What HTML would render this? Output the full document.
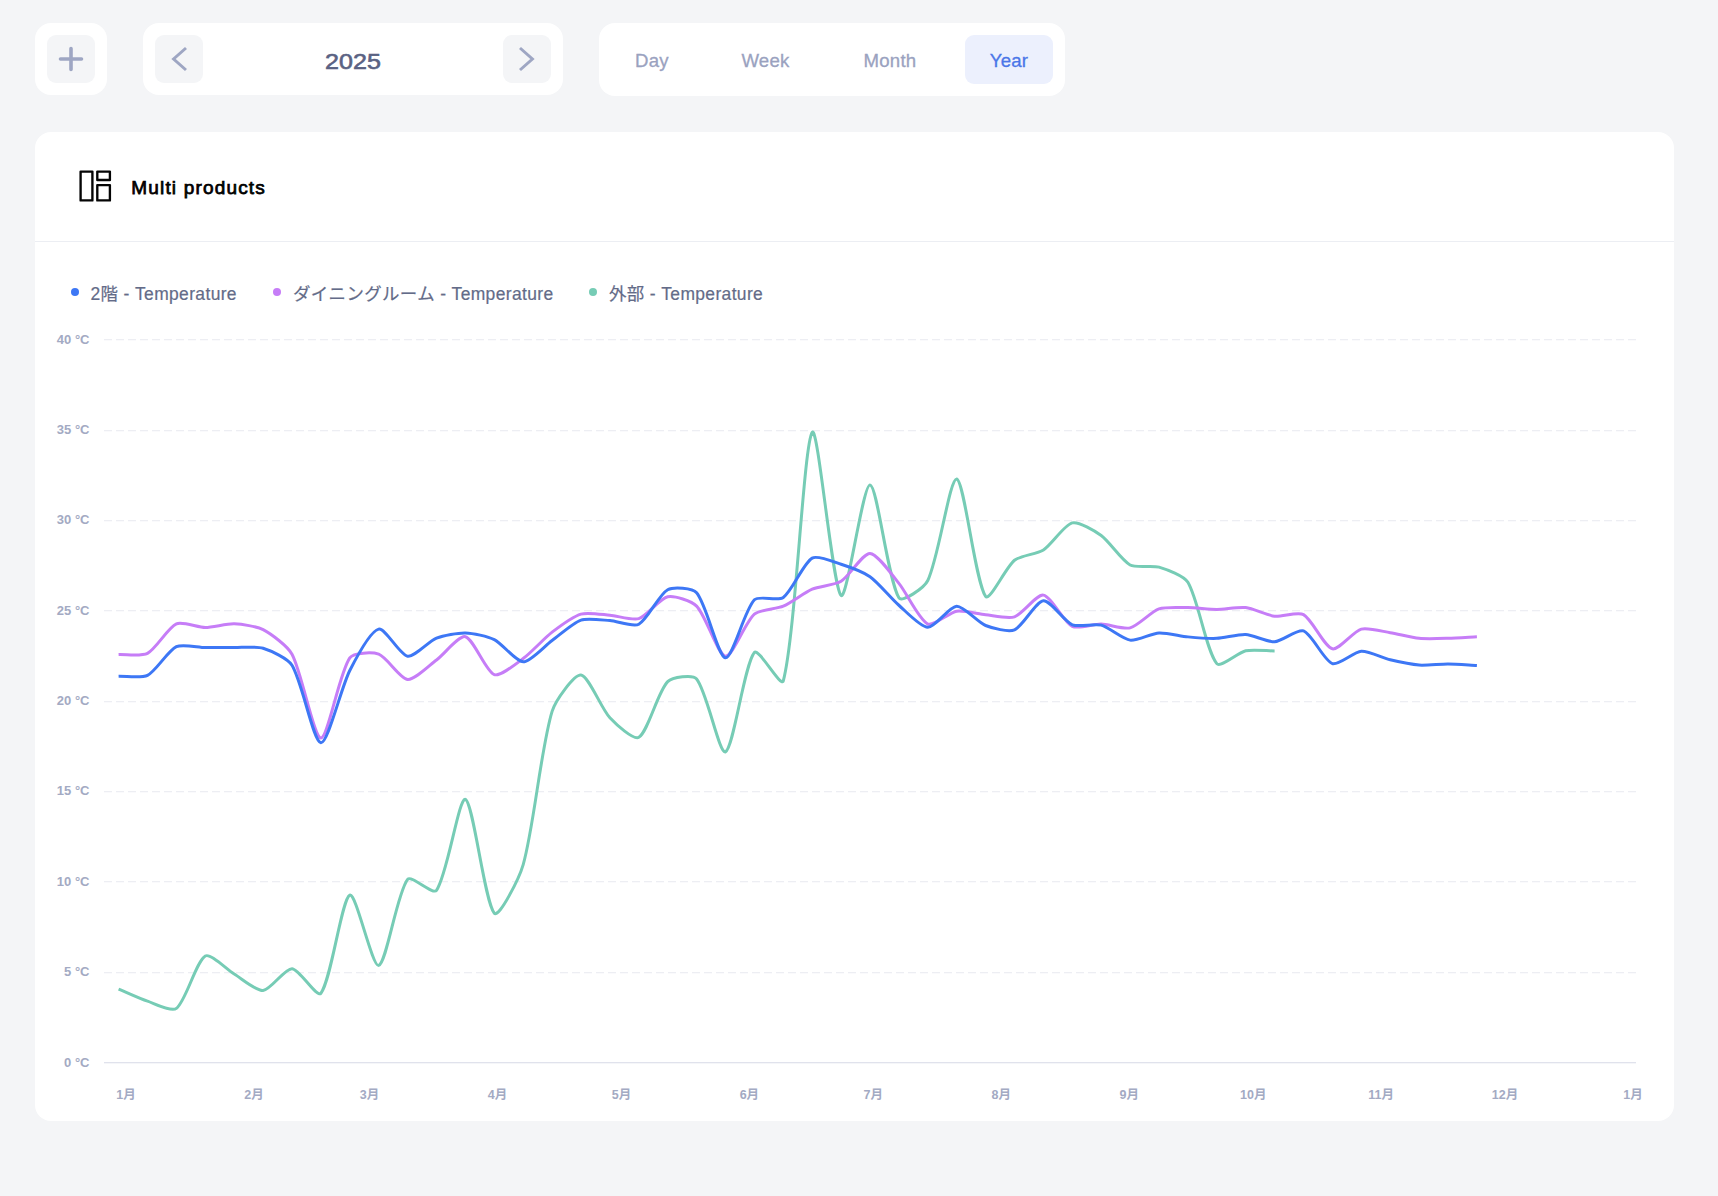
<!DOCTYPE html>
<html lang="ja">
<head>
<meta charset="utf-8">
<title>Multi products</title>
<style>
*{box-sizing:border-box;margin:0;padding:0}
html,body{width:1718px;height:1196px;overflow:hidden}
body{background:#f4f5f7;font-family:"Liberation Sans","Noto Sans CJK JP",sans-serif;position:relative;color:#5f6785}
.abs{position:absolute}
.pill{position:absolute;background:#fff;border-radius:16px}
.btn{position:absolute;width:48px;height:48px;background:#f4f5f7;border-radius:9px}
.btn svg{position:absolute;left:0;top:0}
.year{position:absolute;left:203px;top:35px;width:300px;height:48px;line-height:52px;text-align:center;font-size:22.8px;color:#5a6283;-webkit-text-stroke:0.6px #5a6283;transform:scaleX(1.1);transform-origin:50% 50%}
.tab{position:absolute;top:35px;height:49px;line-height:52px;text-align:center;font-size:18.6px;color:#9aa2bf;-webkit-text-stroke:0.3px #9aa2bf;letter-spacing:.25px;white-space:nowrap}
.tab.on{background:#ecf0fd;border-radius:9px;color:#4a76e8;-webkit-text-stroke:0.3px #4a76e8}
.card{position:absolute;left:35px;top:132px;width:1639px;height:989px;background:#fff;border-radius:16px}
.hr{position:absolute;left:35px;top:241px;width:1639px;height:1px;background:#eceef3}
.title{position:absolute;left:131.3px;top:174.6px;font-size:19px;font-weight:400;color:#000;-webkit-text-stroke:0.75px #000;letter-spacing:1.17px;line-height:26px;white-space:nowrap}
.lg{position:absolute;top:281px;height:26px;line-height:26px;font-size:17.45px;letter-spacing:.37px;color:#636b88;white-space:nowrap;-webkit-text-stroke:0.2px #636b88}
.dot{position:absolute;top:287.6px;width:8px;height:8px;border-radius:50%}
.yl{position:absolute;left:20px;width:69.5px;height:20px;line-height:20px;text-align:right;font-size:13px;font-weight:700;color:#a3aac3;white-space:nowrap}
.xl{position:absolute;top:1085px;width:60px;height:20px;line-height:20px;text-align:center;font-size:12.5px;font-weight:700;color:#a3aac3;white-space:nowrap}
svg.chart{position:absolute;left:0;top:0}
</style>
</head>
<body>

<!-- toolbar -->
<div class="pill" style="left:35px;top:23px;width:72px;height:72px">
  <div class="btn" style="left:12px;top:12px">
    <svg width="48" height="48" viewBox="0 0 48 48"><path d="M13.5 24H34.5M24 13.5V34.5" stroke="#9ea6c3" stroke-width="3.6" stroke-linecap="round" fill="none"/></svg>
  </div>
</div>

<div class="pill" style="left:143px;top:23px;width:420px;height:72px">
  <div class="btn" style="left:12px;top:12px">
    <svg width="48" height="48" viewBox="0 0 48 48"><path d="M31 13L18.6 24L31 35" stroke="#9ea6c3" stroke-width="3" fill="none" stroke-linejoin="miter"/></svg>
  </div>
  <div class="btn" style="left:360px;top:12px">
    <svg width="48" height="48" viewBox="0 0 48 48"><path d="M17 13L29.4 24L17 35" stroke="#9ea6c3" stroke-width="3" fill="none" stroke-linejoin="miter"/></svg>
  </div>
</div>
<div class="year">2025</div>

<div class="pill" style="left:599px;top:23px;width:466px;height:73px"></div>
<div class="tab" style="left:611px;width:82px">Day</div>
<div class="tab" style="left:717px;width:97px">Week</div>
<div class="tab" style="left:839px;width:102px">Month</div>
<div class="tab on" style="left:965px;width:88px">Year</div>

<!-- card -->
<div class="card"></div>
<div class="hr"></div>
<svg class="abs" style="left:77px;top:168px" width="36" height="36" viewBox="0 0 36 36">
  <g fill="none" stroke="#050505" stroke-width="2.35" stroke-linejoin="round">
    <rect x="3.6" y="3.6" width="11.8" height="28.8"/>
    <rect x="20.3" y="3.6" width="12.6" height="8.4"/>
    <rect x="20.3" y="17.1" width="12.6" height="15.3"/>
  </g>
</svg>
<div class="title">Multi products</div>

<!-- legend -->
<div class="dot" style="left:71px;background:#3d77f5"></div>
<div class="lg" style="left:90.5px">2階 - Temperature</div>
<div class="dot" style="left:272.5px;background:#c67df7"></div>
<div class="lg" style="left:293px">ダイニングルーム - Temperature</div>
<div class="dot" style="left:589.3px;background:#76ccb5"></div>
<div class="lg" style="left:609px">外部 - Temperature</div>

<!-- chart -->
<svg class="chart" width="1718" height="1196" viewBox="0 0 1718 1196">
  <g stroke="#e8e9f0" stroke-width="1" stroke-dasharray="8 4" fill="none"><line x1="104" x2="1636" y1="972.72" y2="972.72"/><line x1="104" x2="1636" y1="881.72" y2="881.72"/><line x1="104" x2="1636" y1="791.72" y2="791.72"/><line x1="104" x2="1636" y1="701.72" y2="701.72"/><line x1="104" x2="1636" y1="610.72" y2="610.72"/><line x1="104" x2="1636" y1="520.72" y2="520.72"/><line x1="104" x2="1636" y1="430.72" y2="430.72"/><line x1="104" x2="1636" y1="339.72" y2="339.72"/></g>
  <line x1="104" x2="1636" y1="1062.75" y2="1062.75" stroke="#d6d9e6" stroke-width="1"/>
  <g fill="none" stroke-width="3.0" stroke-linejoin="round">
    <path stroke="#76ccb5" d="M118.60 989.06C125.82 992.08 140.09 998.68 147.50 1001.16C154.54 1003.52 171.60 1012.14 176.40 1008.39C186.05 1000.85 196.09 961.46 205.30 955.99C210.54 952.87 226.89 969.69 234.20 974.06C241.34 978.32 256.19 991.15 263.10 990.50C270.64 989.79 284.94 968.30 292.00 968.64C299.39 968.98 316.99 998.19 320.90 993.21C331.44 979.80 341.51 899.08 349.80 895.09C355.96 892.13 372.11 967.17 378.70 965.38C386.56 963.24 396.82 893.35 407.60 879.37C411.27 874.60 432.97 895.29 436.50 890.39C447.42 875.27 458.92 796.77 465.40 799.32C473.37 802.46 484.55 902.15 494.30 913.16C499.00 918.46 519.35 877.98 523.20 864.55C533.80 827.52 540.96 747.84 552.10 711.32C555.41 700.45 574.16 674.23 581.00 675.00C588.61 675.86 601.27 708.52 609.90 717.82C615.72 724.10 633.64 740.57 638.80 737.34C648.09 731.53 657.82 691.66 667.70 681.68C672.27 677.07 692.69 674.24 696.60 678.97C707.14 691.76 719.27 754.66 725.50 751.80C733.72 748.02 744.01 665.17 754.40 652.41C758.46 647.42 781.29 688.45 783.30 680.78C795.74 633.42 803.51 445.14 812.20 432.32C817.96 423.82 832.55 587.71 841.10 595.49C847.00 600.86 862.85 484.61 870.00 484.90C877.30 485.20 887.69 579.30 898.90 597.84C902.14 603.20 924.30 587.69 927.80 580.49C938.75 557.96 949.97 477.09 956.70 478.94C964.42 481.06 975.15 581.69 985.60 596.39C989.60 602.02 1005.81 567.24 1014.50 560.25C1020.26 555.63 1037.09 554.04 1043.40 549.95C1051.54 544.68 1064.26 524.86 1072.30 522.85C1078.71 521.25 1094.94 530.94 1101.20 535.50C1109.39 541.46 1121.61 560.31 1130.10 564.95C1136.06 568.21 1152.20 565.08 1159.00 567.12C1166.65 569.42 1183.93 575.68 1187.90 582.30C1198.38 599.80 1206.22 651.08 1216.80 663.61C1220.67 668.21 1238.15 652.44 1245.70 650.78C1252.60 649.27 1267.38 650.92 1274.60 650.97"/>
    <path stroke="#c67df7" d="M118.60 654.58C125.82 654.26 141.54 656.48 147.50 653.31C155.99 648.80 167.93 627.65 176.40 623.86C182.38 621.19 198.07 627.47 205.30 627.47C212.52 627.47 227.02 623.59 234.20 623.86C241.47 624.13 256.78 626.32 263.10 629.64C271.23 633.91 287.66 646.10 292.00 654.22C302.11 673.16 313.53 737.42 320.90 737.88C327.98 738.32 339.03 673.42 349.80 657.83C353.48 652.50 372.47 651.88 378.70 654.22C386.92 657.30 400.03 678.76 407.60 679.52C414.48 680.20 429.50 665.19 436.50 660.00C443.95 654.48 459.08 635.09 465.40 636.69C473.53 638.75 485.77 671.41 494.30 674.64C500.22 676.88 516.58 663.42 523.20 658.55C531.03 652.80 544.38 638.11 552.10 632.17C558.83 627.00 573.18 616.40 581.00 614.10C587.63 612.15 602.70 614.62 609.90 615.19C617.15 615.75 632.36 620.67 638.80 618.62C646.81 616.06 659.84 598.45 667.70 596.76C674.29 595.33 691.62 601.03 696.60 606.15C706.07 615.89 717.83 655.15 725.50 656.21C732.28 657.14 745.29 621.99 754.40 614.10C759.74 609.47 776.48 609.09 783.30 606.15C790.93 602.86 804.57 592.46 812.20 589.17C819.02 586.22 834.92 585.04 841.10 581.22C849.37 576.10 862.91 553.12 870.00 553.39C877.36 553.66 892.32 575.35 898.90 583.38C906.77 593.01 918.96 619.78 927.80 624.04C933.41 626.74 949.18 612.41 956.70 611.21C963.63 610.11 978.36 614.12 985.60 614.83C992.81 615.52 1008.07 619.00 1014.50 616.81C1022.52 614.08 1036.77 594.03 1043.40 595.13C1051.22 596.42 1063.70 622.09 1072.30 626.39C1078.15 629.32 1093.99 623.86 1101.20 624.04C1108.44 624.22 1123.49 629.57 1130.10 627.84C1137.94 625.78 1151.13 611.62 1159.00 608.86C1165.58 606.56 1180.68 607.53 1187.90 607.60C1195.13 607.67 1209.57 609.40 1216.80 609.40C1224.02 609.40 1238.62 606.76 1245.70 607.60C1253.07 608.47 1267.22 615.37 1274.60 616.27C1281.67 617.13 1297.82 611.45 1303.50 614.64C1312.27 619.58 1324.29 646.77 1332.40 648.80C1338.74 650.38 1353.42 631.29 1361.30 629.10C1367.87 627.27 1383.01 631.57 1390.20 632.71C1397.46 633.87 1411.81 637.61 1419.10 638.32C1426.26 639.01 1440.78 638.52 1448.00 638.32C1455.23 638.11 1469.67 637.10 1476.90 636.69"/>
    <path stroke="#3d77f5" d="M118.60 676.26C125.82 676.04 141.50 678.43 147.50 675.36C155.95 671.03 167.95 650.70 176.40 646.63C182.40 643.74 198.07 647.42 205.30 647.53C212.52 647.65 226.98 647.44 234.20 647.53C241.43 647.62 256.41 646.20 263.10 648.25C270.86 650.63 287.83 658.43 292.00 665.24C302.28 682.05 313.46 742.09 320.90 742.76C327.91 743.40 341.03 687.72 349.80 670.48C355.48 659.30 370.60 631.10 378.70 629.10C385.05 627.53 399.83 654.99 407.60 656.21C414.28 657.25 428.74 641.27 436.50 638.14C443.19 635.44 458.21 632.72 465.40 632.90C472.66 633.08 487.82 636.34 494.30 639.58C502.27 643.57 515.92 661.69 523.20 661.81C530.37 661.92 544.82 645.74 552.10 640.48C559.27 635.31 573.05 622.80 581.00 620.07C587.50 617.83 602.70 620.09 609.90 620.61C617.15 621.13 633.12 627.26 638.80 624.22C647.57 619.53 658.92 594.48 667.70 589.71C673.37 586.62 692.41 587.84 696.60 592.78C706.86 604.87 717.94 656.91 725.50 657.83C732.39 658.67 744.42 610.25 754.40 599.83C758.87 595.16 777.92 601.36 783.30 597.48C792.37 590.93 803.20 563.27 812.20 558.09C817.65 554.95 834.10 561.98 841.10 564.23C848.55 566.63 863.69 572.22 870.00 576.70C878.14 582.48 891.27 598.57 898.90 605.25C905.72 611.22 920.51 627.16 927.80 627.29C934.96 627.43 949.37 606.56 956.70 606.33C963.82 606.11 977.76 622.30 985.60 625.49C992.21 628.17 1008.49 632.40 1014.50 629.82C1022.94 626.21 1035.86 601.39 1043.40 600.73C1050.31 600.13 1064.13 621.32 1072.30 624.76C1078.58 627.41 1094.40 623.32 1101.20 625.13C1108.85 627.16 1122.55 639.11 1130.10 640.12C1137.00 641.05 1151.70 633.31 1159.00 632.90C1166.15 632.49 1180.65 636.19 1187.90 636.87C1195.10 637.55 1209.60 638.61 1216.80 638.32C1224.05 638.02 1238.55 634.10 1245.70 634.52C1253.00 634.96 1267.50 642.19 1274.60 641.75C1281.95 641.29 1297.51 628.64 1303.50 630.91C1311.96 634.11 1324.00 660.65 1332.40 663.61C1338.45 665.75 1353.92 651.81 1361.30 651.33C1368.37 650.86 1382.88 658.08 1390.20 659.82C1397.33 661.51 1411.82 664.54 1419.10 665.06C1426.27 665.58 1440.78 663.93 1448.00 663.98C1455.23 664.02 1469.67 665.06 1476.90 665.42"/>
  </g>
</svg>
<div class="yl" style="top:1053px">0 °C</div><div class="yl" style="top:962px">5 °C</div><div class="yl" style="top:872px">10 °C</div><div class="yl" style="top:781px">15 °C</div><div class="yl" style="top:691px">20 °C</div><div class="yl" style="top:601px">25 °C</div><div class="yl" style="top:510px">30 °C</div><div class="yl" style="top:420px">35 °C</div><div class="yl" style="top:330px">40 °C</div>
<div class="xl" style="left:96.0px">1月</div><div class="xl" style="left:224.0px">2月</div><div class="xl" style="left:339.6px">3月</div><div class="xl" style="left:467.6px">4月</div><div class="xl" style="left:591.5px">5月</div><div class="xl" style="left:719.4px">6月</div><div class="xl" style="left:843.3px">7月</div><div class="xl" style="left:971.3px">8月</div><div class="xl" style="left:1099.3px">9月</div><div class="xl" style="left:1223.2px">10月</div><div class="xl" style="left:1351.2px">11月</div><div class="xl" style="left:1475.0px">12月</div><div class="xl" style="left:1603.0px">1月</div>
</body>
</html>
